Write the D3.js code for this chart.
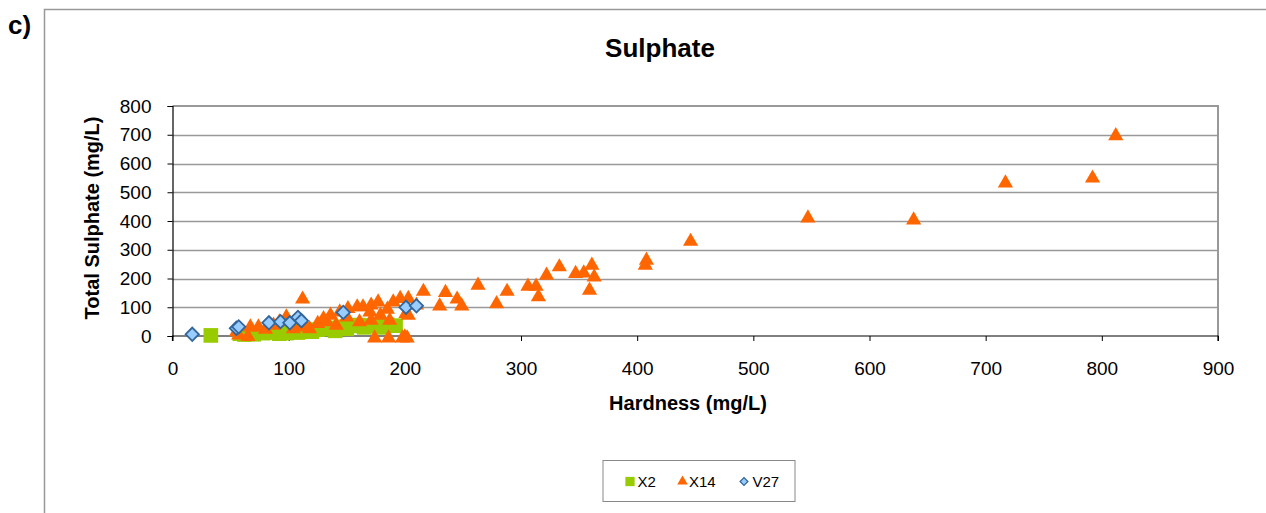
<!DOCTYPE html>
<html><head><meta charset="utf-8">
<script src="https://cdn.jsdelivr.net/npm/d3@7"></script>
<style>body{margin:0;background:#fff;}svg{display:block;font-family:"Liberation Sans",Arial,sans-serif;}</style>
</head><body>
<svg id="c" width="1266" height="513"></svg>
<script>
const xTicks = [0,100,200,300,400,500,600,700,800,900];
const yTicks = [0,100,200,300,400,500,600,700,800];

const x2Hardness = [33,58,62,70,78,85,92,100,108,115,125,130,145,155,160,168,175,185,192,140,120,98,150,180,165,110,135];
const x2Sulphate = [2,8,5,6,10,12,8,15,12,20,22,25,32,35,38,36,35,38,36,18,15,10,25,30,30,25,28];

const x14Hardness = [812,792,717,638,547,446,408,407,361,363,359,347,354,333,322,313,306,315,288,279,263,249,245,235,230,216,201,203,200,174,186,198,202,112,196,190,210,203,187,171,177,171,164,159,151,144,136,130,133,141,98,92,87,74,67,55,115,118,104,161,179,150,57,65,80,125,170,185,110];
const x14Sulphate = [703,556,539,410,417,336,270,253,253,212,166,224,226,247,218,180,180,143,162,119,183,111,135,158,111,162,85,137,3,0,0,0,0,135,137,125,114,79,61,61,125,114,108,108,102,90,79,67,56,44,73,56,44,38,38,21,38,32,32,56,79,73,10,5,30,50,90,100,40];

const v27Hardness = [17,55,57,83,93,101,108,111,147,201,210];
const v27Sulphate = [6,27,32,46,50,46,65,53,82,100,105];

const svg = d3.select('#c');
const L = 172.5, R = 1218, T = 106, B = 336;
const x = d3.scaleLinear().domain([0,900]).range([L,R]);
const y = d3.scaleLinear().domain([0,800]).range([B,T]);

// outer chart border
svg.append('path').attr('d','M44.5,513 V9.5 H1266').attr('fill','none').attr('stroke','#999').attr('stroke-width',1.5);

svg.append('text').attr('x',8).attr('y',34).text('c)').attr('font-size',26).attr('font-weight','bold');
svg.append('text').attr('x',660).attr('y',56.5).attr('text-anchor','middle').text('Sulphate').attr('font-size',26).attr('font-weight','bold');

// gridlines
svg.append('g').selectAll('line').data(yTicks.filter(d=>d>0&&d<800)).join('line')
  .attr('x1',L).attr('x2',R).attr('y1',d=>Math.round(y(d))+0.5).attr('y2',d=>Math.round(y(d))+0.5)
  .attr('stroke','#999').attr('stroke-width',1.5);
// frame top & right
svg.append('path').attr('d',`M${L},${T} H${R} V${B}`).attr('fill','none').attr('stroke','#999').attr('stroke-width',2);

// axes
const yAxis = d3.axisLeft(y).tickValues(yTicks).tickSize(5).tickPadding(16);
const gy = svg.append('g').attr('transform',`translate(${L},0)`).call(yAxis);
const xAxis = d3.axisBottom(x).tickValues(xTicks).tickSize(5).tickPadding(21);
const gx = svg.append('g').attr('transform',`translate(0,${B})`).call(xAxis);
[gx,gy].forEach(g=>{
  g.select('.domain').attr('stroke','#000').attr('stroke-width',1.2);
  g.selectAll('.tick line').attr('stroke','#000');
  g.selectAll('.tick text').attr('font-size',19).attr('fill','#000').attr('font-family','"Liberation Sans",Arial,sans-serif');
});
gx.select('.domain').attr('d',`M${L},5V0H${R}V5`);

svg.append('text').attr('x',688).attr('y',410).attr('text-anchor','middle').text('Hardness (mg/L)').attr('font-size',20).attr('font-weight','bold');
svg.append('text').attr('transform','translate(99,218) rotate(-90)').attr('text-anchor','middle').text('Total Sulphate (mg/L)').attr('font-size',20).attr('font-weight','bold');

const sq = d3.symbol().type(d3.symbolSquare).size(215);
const tri = d3.symbol().type(d3.symbolTriangle).size(100);
const dia = d3.symbol().type(d3.symbolSquare).size(88);

const plot = svg.append('g');
plot.selectAll('.s').data(x2Hardness.map((h,i)=>[h,x2Sulphate[i]])).join('path')
  .attr('transform',d=>`translate(${x(d[0])},${y(d[1])})`).attr('d',sq).attr('fill','#99CC00');
plot.selectAll('.t').data(x14Hardness.map((h,i)=>[h,x14Sulphate[i]])).join('path')
  .attr('transform',d=>`translate(${x(d[0])},${y(d[1])+2})`).attr('d',tri).attr('fill','#FF6600');
plot.selectAll('.d').data(v27Hardness.map((h,i)=>[h,v27Sulphate[i]])).join('path')
  .attr('transform',d=>`translate(${x(d[0])},${y(d[1])}) rotate(45)`).attr('d',dia).attr('fill','#99CCFF').attr('stroke','#336699').attr('stroke-width',1.8);

// legend
const lg = svg.append('g');
lg.append('rect').attr('x',603).attr('y',460.5).attr('width',192).attr('height',41).attr('fill','#fff').attr('stroke','#888');
const items = [{n:'X2',s:d3.symbol().type(d3.symbolSquare).size(86),f:'#99CC00',st:'none',x:630,r:0,tx:637.5},
               {n:'X14',s:d3.symbol().type(d3.symbolTriangle).size(48),f:'#FF6600',st:'none',x:682.5,r:0,tx:689},
               {n:'V27',s:d3.symbol().type(d3.symbolSquare).size(30),f:'#99CCFF',st:'#336699',x:744,r:45,tx:752.5}];
items.forEach(it=>{
  lg.append('path').attr('transform',`translate(${it.x},481.5) rotate(${it.r})`).attr('d',it.s).attr('fill',it.f).attr('stroke',it.st).attr('stroke-width',1.3);
  lg.append('text').attr('x',it.tx).attr('y',486.7).text(it.n).attr('font-size',15);
});
</script>
</body></html>
